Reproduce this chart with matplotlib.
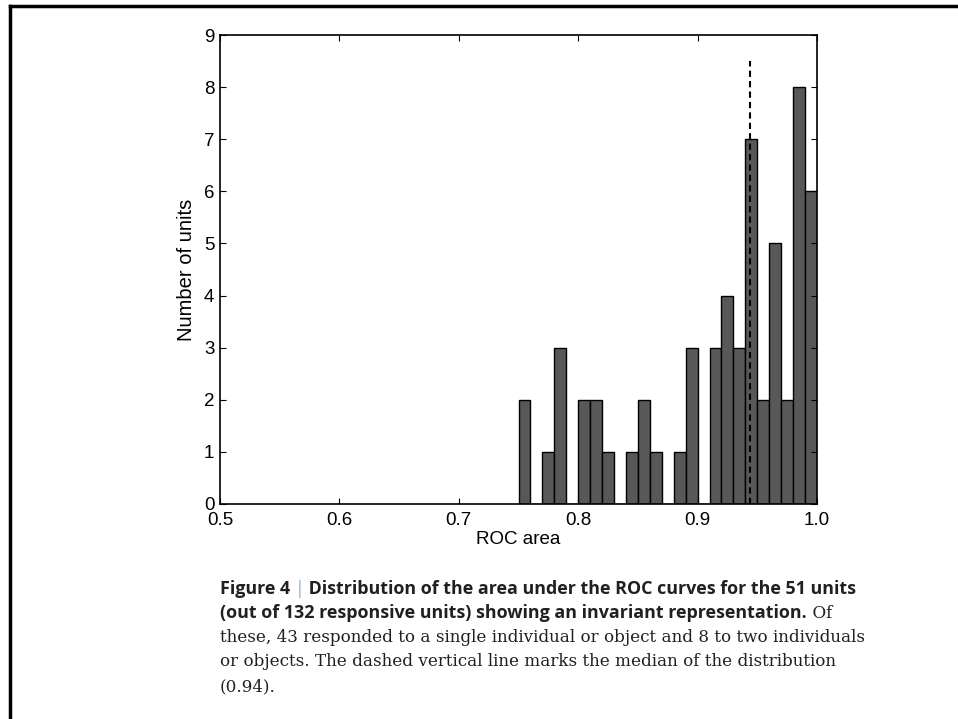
import matplotlib
matplotlib.use("Agg")
import matplotlib.pyplot as plt
from matplotlib.lines import Line2D
import numpy as np

plt.rcParams.update(
    {
        "font.family": "Liberation Sans",
        "font.size": 13.5,
        "axes.linewidth": 1.2,
        "xtick.direction": "in",
        "ytick.direction": "in",
        "xtick.top": True,
        "ytick.right": True,
        "xtick.major.size": 4,
        "ytick.major.size": 4,
    }
)

# histogram of ROC areas (bin left edges, counts)
bin_edges = np.round(np.arange(0.75, 1.0, 0.01), 2)
counts = [2, 0, 1, 3, 0, 2, 2, 1, 0, 1, 2, 1, 0, 1, 3, 0, 3, 4, 3, 7, 2, 5, 2, 8, 6]
median_roc = 0.944
median_line_top = 8.5

x_ticks = [0.5, 0.6, 0.7, 0.8, 0.9, 1.0]
y_ticks = list(range(10))

fig = plt.figure(figsize=(9.58, 7.19), dpi=100)
ax = fig.add_axes([220 / 958, 1 - 504 / 719, 597 / 958, 469 / 719])

ax.bar(bin_edges, counts, width=0.01, align="edge",
       color="#585858", edgecolor="black", linewidth=1)
ax.plot([median_roc, median_roc], [0, median_line_top], color="black",
        linestyle=(0, (3, 2)), linewidth=1.5)

ax.set_xlim(0.5, 1.0)
ax.set_ylim(0, 9)
ax.set_xticks(x_ticks)
ax.set_xticklabels(["0.5", "0.6", "0.7", "0.8", "0.9", "1.0"])
ax.set_yticks(y_ticks)
ax.tick_params(axis="x", labelsize=13.5, pad=6)
ax.tick_params(axis="y", labelsize=13.5, pad=4)
ax.set_xlabel("ROC area", fontsize=13.5, labelpad=1)
ax.set_ylabel("Number of units", fontsize=14.5, labelpad=6)

# page frame (left and top edges)
fig.add_artist(Line2D([10 / 958, 10 / 958], [0, 1 - 6 / 719],
                      transform=fig.transFigure, color="black", linewidth=2.5))
fig.add_artist(Line2D([10 / 958, 1], [1 - 6 / 719, 1 - 6 / 719],
                      transform=fig.transFigure, color="black", linewidth=2.5))

# caption, drawn piece by piece so fonts can change within a line
renderer = fig.canvas.get_renderer()
bold_kw = dict(family="Open Sans", weight="bold", fontsize=12.9, color="#231f20")
serif_kw = dict(family="DejaVu Serif", fontsize=12.1, color="#231f20")


def put(pieces, x0, y):
    x = x0
    for txt, kw in pieces:
        t = fig.text(x / 958, 1 - y / 719, txt, va="baseline", ha="left", **kw)
        bb = t.get_window_extent(renderer)
        x = bb.x1


put([("Figure 4 ", bold_kw),
     ("|", dict(bold_kw, weight="normal", color="#8fb3cc")),
     (" Distribution of the area under the ROC curves for the 51 units", bold_kw)],
    220, 594)
put([("(out of 132 responsive units) showing an invariant representation.", bold_kw),
     (" Of", serif_kw)], 220, 618)
fig.text(220 / 958, 1 - 642 / 719,
         "these, 43 responded to a single individual or object and 8 to two individuals",
         va="baseline", **serif_kw)
fig.text(220 / 958, 1 - 666 / 719,
         "or objects. The dashed vertical line marks the median of the distribution",
         va="baseline", **serif_kw)
fig.text(220 / 958, 1 - 691 / 719, "(0.94).", va="baseline", **serif_kw)

fig.savefig("out.png", dpi=100)
